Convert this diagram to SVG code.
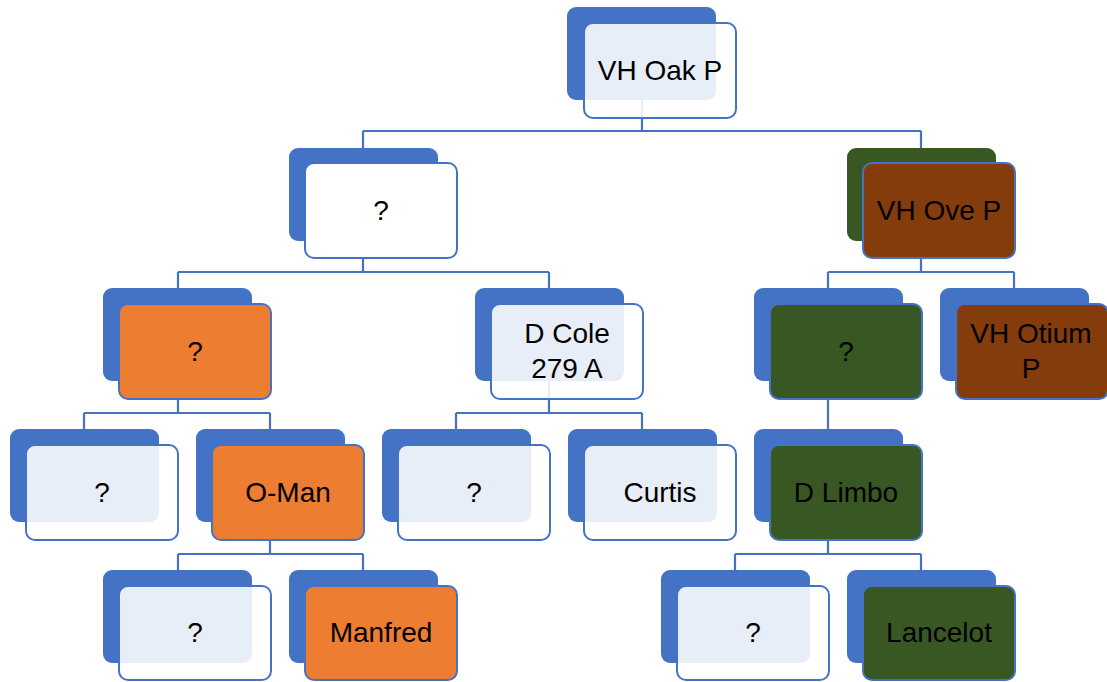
<svg xmlns="http://www.w3.org/2000/svg" width="1107" height="682" viewBox="0 0 1107 682">
  <style>
    .bg { fill: #ffffff; }
    .link { fill: none; stroke: #4472C4; stroke-width: 2.2; }
    .back { fill: #4472C4; }
    .back.green { fill: #385723; }
    .front { stroke: #4472C4; stroke-width: 2; }
    .glass { fill: #ffffff; fill-opacity: 0.88; }
    .white { fill: #ffffff; }
    .orange { fill: #ED7D31; }
    .leaf { fill: #385723; }
    .brown { fill: #843C0C; }
    .label { font-family: "Liberation Sans", Arial, sans-serif; font-size: 28px; fill: #000000; text-anchor: middle; }
  </style>
  <rect class="bg" x="0" y="0" width="1107" height="682"/>

  <!-- connectors: elbow links from each parent to its children -->
  <g id="connectors">
    <path class="link" d="M642,70 V131 M363,131 H921 M363,131 V148 M921,131 V148"/>
    <path class="link" d="M363,210 V272 M178,272 H549 M178,272 V288 M549,272 V288"/>
    <path class="link" d="M921,210 V272 M828,272 H1014 M828,272 V288 M1014,272 V288"/>
    <path class="link" d="M178,350 V413 M84,413 H270 M84,413 V429 M270,413 V429"/>
    <path class="link" d="M549,350 V413 M456,413 H642 M456,413 V429 M642,413 V429"/>
    <path class="link" d="M828,350 V429"/>
    <path class="link" d="M270,491 V554 M178,554 H363 M178,554 V570 M363,554 V570"/>
    <path class="link" d="M828,491 V554 M735,554 H921 M735,554 V570 M921,554 V570"/>
  </g>

  <g id="n-vh-oak-p">
    <rect class="back" x="567" y="7" width="149" height="93" rx="9"/>
    <rect class="front glass" x="584" y="23" width="152" height="95" rx="9"/>
    <text class="label" x="660" y="80">VH Oak P</text>
  </g>

  <g id="n-sire-unknown">
    <rect class="back" x="289" y="148" width="149" height="93" rx="9"/>
    <rect class="front white" x="305" y="163" width="152" height="95" rx="9"/>
    <text class="label" x="381" y="220">?</text>
  </g>

  <g id="n-vh-ove-p">
    <rect class="back green" x="847" y="148" width="149" height="93" rx="9"/>
    <rect class="front brown" x="863" y="163" width="152" height="95" rx="9"/>
    <text class="label" x="939" y="220">VH Ove P</text>
  </g>

  <g id="n-orange-unknown">
    <rect class="back" x="103" y="288" width="149" height="93" rx="9"/>
    <rect class="front orange" x="119" y="304" width="152" height="95" rx="9"/>
    <text class="label" x="195" y="361">?</text>
  </g>

  <g id="n-d-cole">
    <rect class="back" x="475" y="288" width="149" height="93" rx="9"/>
    <rect class="front glass" x="491" y="304" width="152" height="95" rx="9"/>
    <text class="label" x="567" y="343">D Cole</text>
    <text class="label" x="567" y="378">279 A</text>
  </g>

  <g id="n-green-unknown">
    <rect class="back" x="754" y="288" width="149" height="93" rx="9"/>
    <rect class="front leaf" x="770" y="304" width="152" height="95" rx="9"/>
    <text class="label" x="846" y="361">?</text>
  </g>

  <g id="n-vh-otium-p">
    <rect class="back" x="940" y="288" width="149" height="93" rx="9"/>
    <rect class="front brown" x="956" y="304" width="152" height="95" rx="9"/>
    <text class="label" x="1031" y="343">VH Otium</text>
    <text class="label" x="1031" y="378">P</text>
  </g>

  <g id="n-l3-unknown-a">
    <rect class="back" x="10" y="429" width="149" height="93" rx="9"/>
    <rect class="front glass" x="26" y="445" width="152" height="95" rx="9"/>
    <text class="label" x="102" y="502">?</text>
  </g>

  <g id="n-o-man">
    <rect class="back" x="196" y="429" width="149" height="93" rx="9"/>
    <rect class="front orange" x="212" y="445" width="152" height="95" rx="9"/>
    <text class="label" x="288" y="502">O-Man</text>
  </g>

  <g id="n-l3-unknown-b">
    <rect class="back" x="382" y="429" width="149" height="93" rx="9"/>
    <rect class="front glass" x="398" y="445" width="152" height="95" rx="9"/>
    <text class="label" x="474" y="502">?</text>
  </g>

  <g id="n-curtis">
    <rect class="back" x="568" y="429" width="149" height="93" rx="9"/>
    <rect class="front glass" x="584" y="445" width="152" height="95" rx="9"/>
    <text class="label" x="660" y="502">Curtis</text>
  </g>

  <g id="n-d-limbo">
    <rect class="back" x="754" y="429" width="149" height="93" rx="9"/>
    <rect class="front leaf" x="770" y="445" width="152" height="95" rx="9"/>
    <text class="label" x="846" y="502">D Limbo</text>
  </g>

  <g id="n-l4-unknown-a">
    <rect class="back" x="103" y="570" width="149" height="93" rx="9"/>
    <rect class="front glass" x="119" y="586" width="152" height="94" rx="9"/>
    <text class="label" x="195" y="642">?</text>
  </g>

  <g id="n-manfred">
    <rect class="back" x="289" y="570" width="149" height="93" rx="9"/>
    <rect class="front orange" x="305" y="586" width="152" height="94" rx="9"/>
    <text class="label" x="381" y="642">Manfred</text>
  </g>

  <g id="n-l4-unknown-b">
    <rect class="back" x="661" y="570" width="149" height="93" rx="9"/>
    <rect class="front glass" x="677" y="586" width="152" height="94" rx="9"/>
    <text class="label" x="753" y="642">?</text>
  </g>

  <g id="n-lancelot">
    <rect class="back" x="847" y="570" width="149" height="93" rx="9"/>
    <rect class="front leaf" x="863" y="586" width="152" height="94" rx="9"/>
    <text class="label" x="939" y="642">Lancelot</text>
  </g>
</svg>
